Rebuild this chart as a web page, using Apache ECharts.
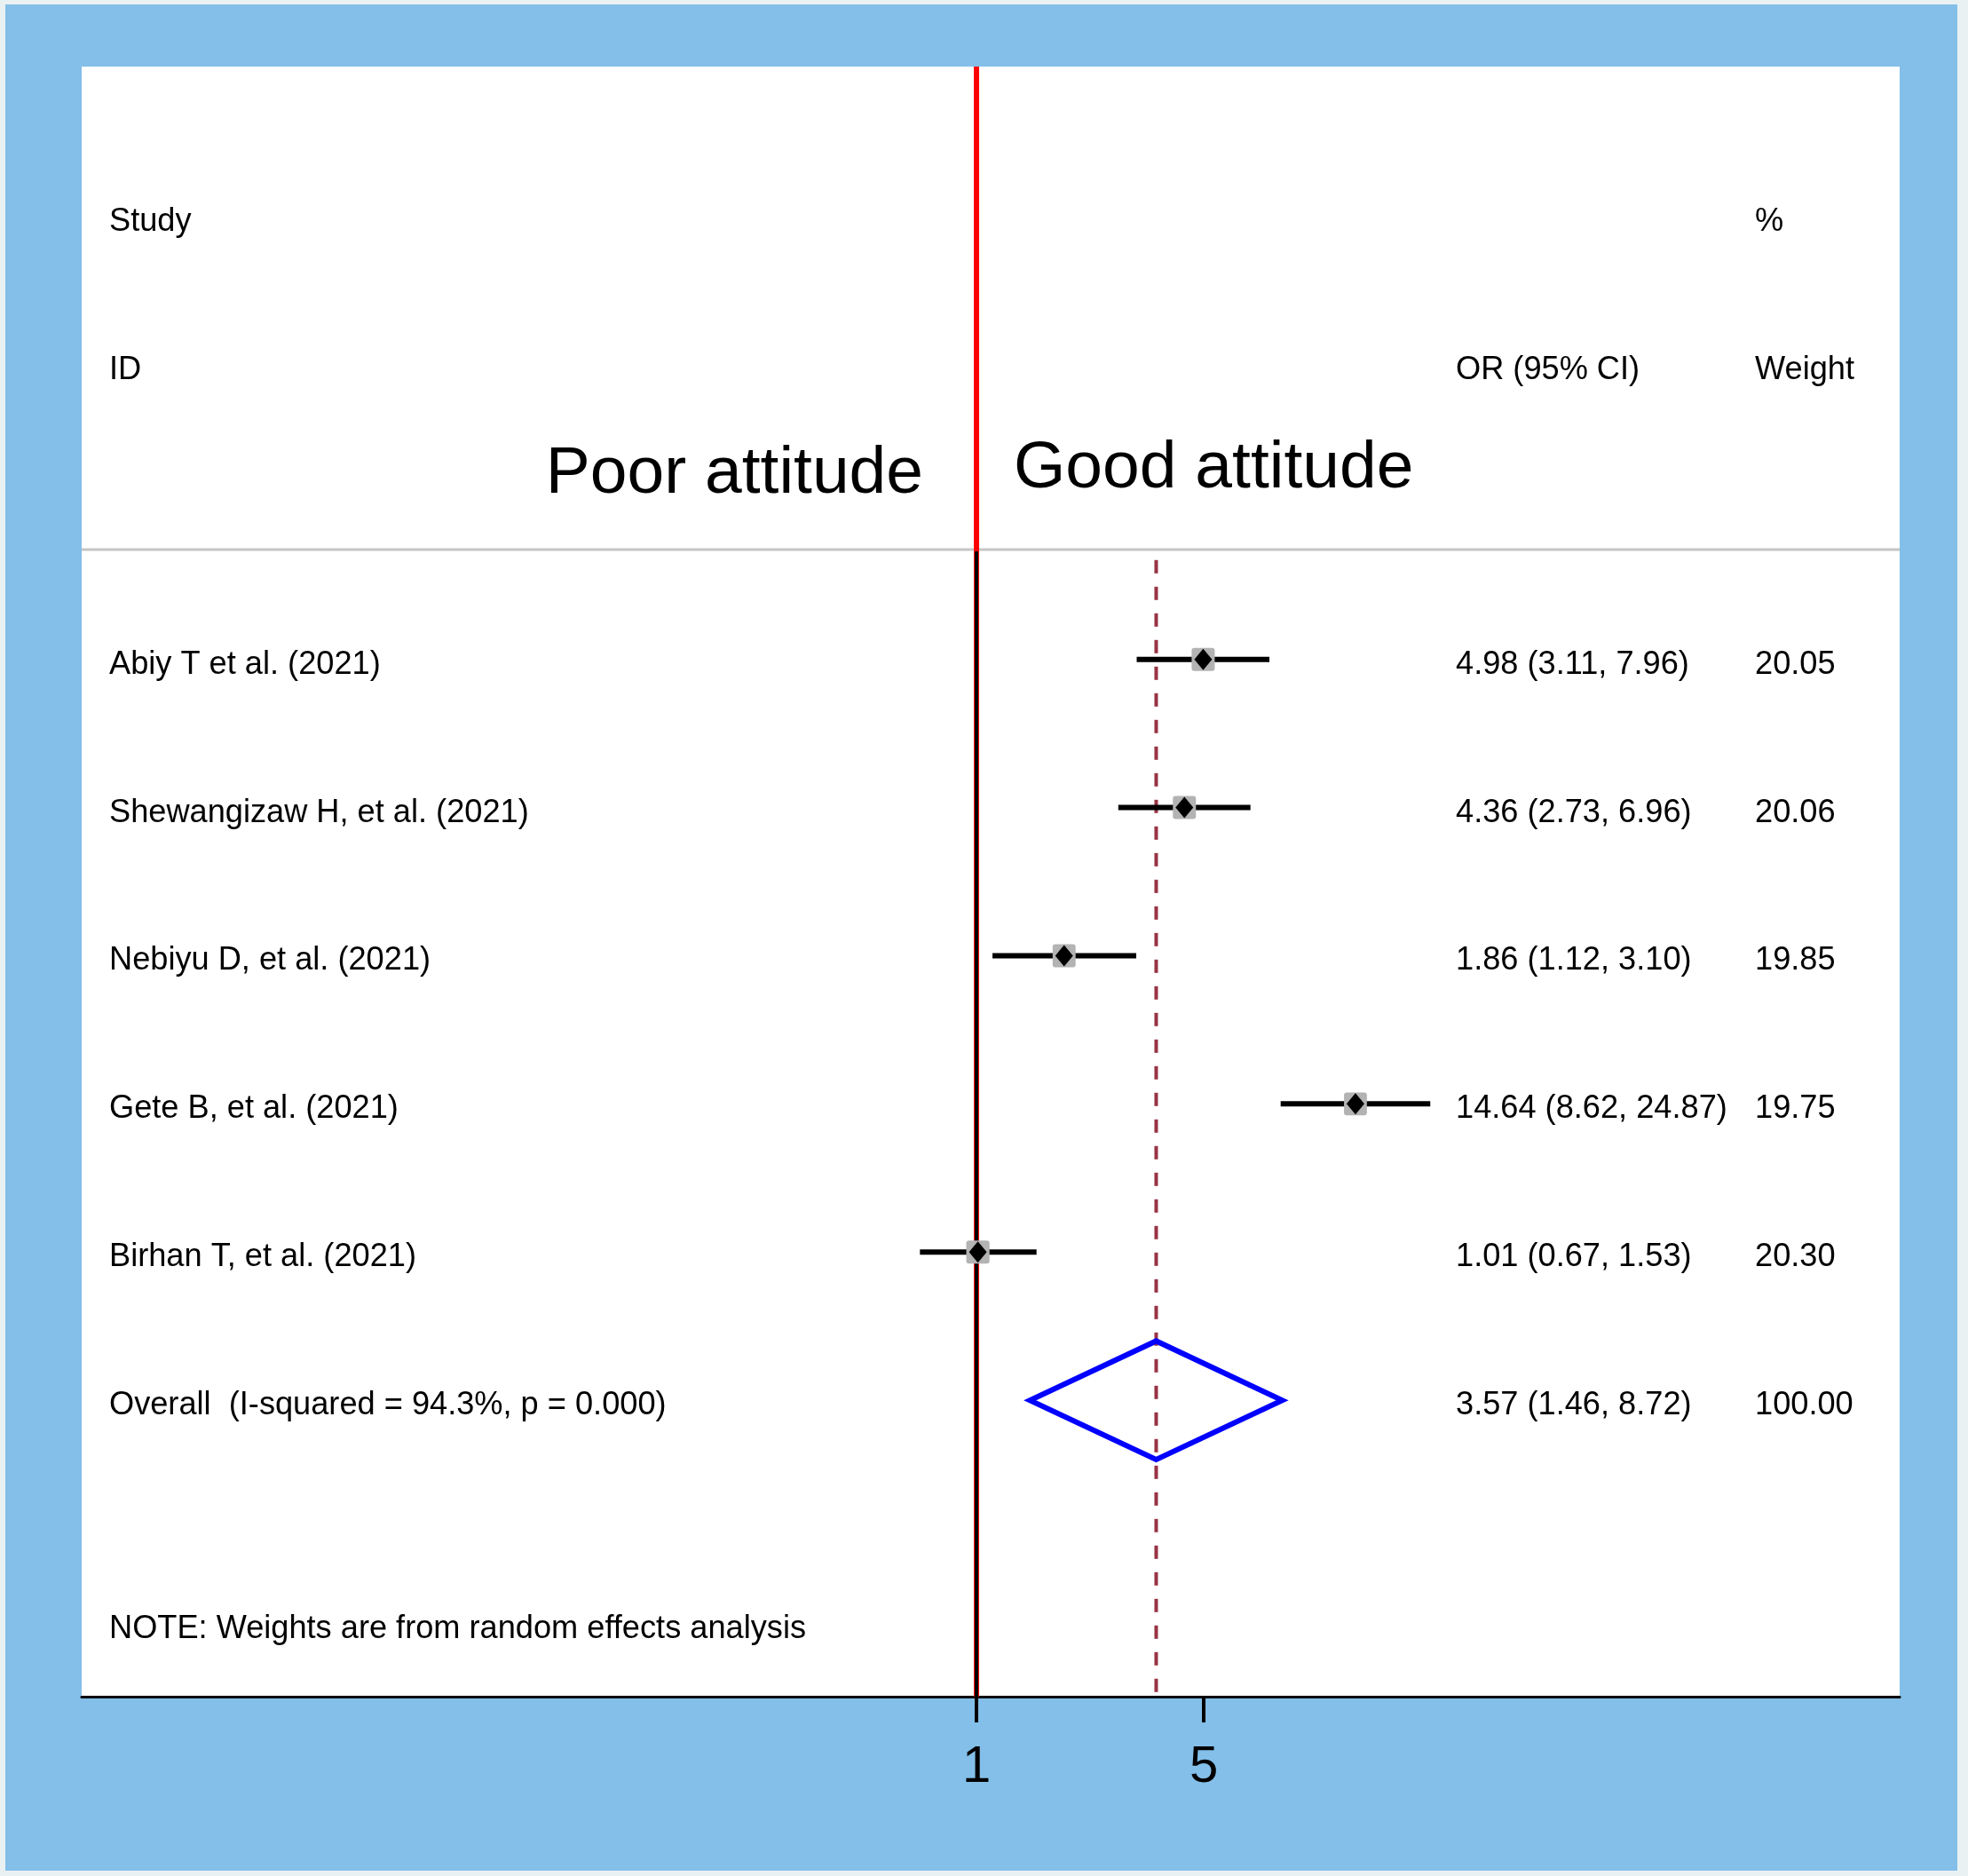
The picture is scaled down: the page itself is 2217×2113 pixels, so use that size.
<!DOCTYPE html>
<html>
<head>
<meta charset="utf-8">
<script src="https://cdn.jsdelivr.net/npm/echarts@6/dist/echarts.min.js"></script>
<style>
  html, body { margin: 0; padding: 0; background: #E9F1F3; }
  #wrap { position: relative; width: 2217px; height: 2113px; background: #E9F1F3; overflow: hidden; }
  #chart { position: absolute; left: 6px; top: 5px; width: 2199px; height: 2102px; background: #83BFE8; }
</style>
</head>
<body>
<div id="wrap"><div id="chart"></div></div>
<script>
// ---- data ----
const studies = ['Abiy T et al. (2021)', 'Shewangizaw H, et al. (2021)', 'Nebiyu D, et al. (2021)', 'Gete B, et al. (2021)', 'Birhan T, et al. (2021)'];
const oddsRatios = [4.98, 4.36, 1.86, 14.64, 1.01];
const lowerCI = [3.11, 2.73, 1.12, 8.62, 0.67];
const upperCI = [7.96, 6.96, 3.10, 24.87, 1.53];
const weights = [20.05, 20.06, 19.85, 19.75, 20.30];
const overallLabel = 'Overall  (I-squared = 94.3%, p = 0.000)';
const overallOR = 3.57;
const overallLower = 1.46;
const overallUpper = 8.72;
const overallWeight = 100.00;
const noteText = 'NOTE: Weights are from random effects analysis';
const headerStudy = ['Study', 'ID'];
const headerOR = ['', 'OR (95% CI)'];
const headerWeight = ['%', 'Weight'];
const leftSideLabel = 'Poor attitude';
const rightSideLabel = 'Good attitude';
const xTicks = [1, 5];
const nullValue = 1;

// ---- layout constants (not data) ----
const FONT = "'Liberation Sans', Arial, sans-serif";
const studyRows = studies.map((_, i) => i + 1);
const overallRow = studies.length + 1;
const noteRow = 7.51;
const headerRows = [-2, -1];
const sideLabelRows = [-0.27, -0.31];
const headerLineRow = 0.26;
const dashStartRow = 0.33;
const colStudyX = 117, colORX = 1634, colWeightX = 1971;
const textDY = 6;
const TS = 36.2;
const fmt = v => v.toFixed(2);

const chart = echarts.init(document.getElementById('chart'), null, { renderer: 'canvas' });

function txt(x, y, text, size, align) {
  return {
    type: 'text', x: x, y: y,
    style: { text: text, fill: '#000', font: size + 'px ' + FONT, align: align || 'left', verticalAlign: 'middle' }
  };
}

const option = {
  animation: false,
  backgroundColor: '#83BFE8',
  grid: { left: 86, top: 70, width: 2048, height: 1836, show: true, backgroundColor: '#ffffff', borderWidth: 0 },
  xAxis: {
    type: 'log', logBase: 10, min: 0.00177, max: 690.6,
    axisLine: { show: true, onZero: false, lineStyle: { color: '#000', width: 3 } },
    axisTick: { show: true, customValues: xTicks, length: 29, lineStyle: { color: '#000', width: 4 } },
    axisLabel: { show: true, customValues: xTicks, margin: 51, fontSize: 58, color: '#000', fontFamily: FONT,
      formatter: v => String(Math.round(v)) },
    splitLine: { show: false }
  },
  yAxis: { type: 'value', min: -3, max: 8, inverse: true, show: false },
  series: [
    {
      name: 'refLines', type: 'custom', z: 1, silent: true,
      data: [[overallOR]],
      renderItem: function (params, api) {
        const cs = params.coordSys;
        const x1 = api.coord([nullValue, 0])[0];
        const yTop = cs.y, yBot = cs.y + cs.height;
        const yGray = api.coord([nullValue, headerLineRow])[1];
        const xo = api.coord([api.value(0), 0])[0];
        const yDash = api.coord([nullValue, dashStartRow])[1];
        return { type: 'group', children: [
          { type: 'line', shape: { x1: cs.x, y1: yGray, x2: cs.x + cs.width, y2: yGray }, style: { stroke: '#C6C6C6', lineWidth: 3 } },
          { type: 'line', shape: { x1: x1, y1: yTop, x2: x1, y2: yBot }, style: { stroke: '#FF0000', lineWidth: 6 } },
          { type: 'line', shape: { x1: x1, y1: yGray + 2, x2: x1, y2: yBot }, style: { stroke: '#000000', lineWidth: 4 } },
          { type: 'line', shape: { x1: xo, y1: yDash, x2: xo, y2: yBot }, style: { stroke: '#983344', lineWidth: 4, lineDash: [15, 15] } }
        ] };
      }
    },
    {
      name: 'ci', type: 'custom', z: 3, silent: true,
      data: studies.map((s, i) => [lowerCI[i], upperCI[i], studyRows[i], oddsRatios[i], weights[i]]),
      renderItem: function (params, api) {
        const a = api.coord([api.value(0), api.value(2)]);
        const b = api.coord([api.value(1), api.value(2)]);
        const c = api.coord([api.value(3), api.value(2)]);
        const sz = 5.806 * Math.sqrt(api.value(4));
        return { type: 'group', children: [
          { type: 'line', shape: { x1: a[0], y1: a[1], x2: b[0], y2: b[1] }, style: { stroke: '#000', lineWidth: 6 } },
          { type: 'rect', shape: { x: c[0] - sz / 2, y: c[1] - sz / 2, width: sz, height: sz, r: 3 }, style: { fill: '#B3B3B3' } }
        ] };
      }
    },
    {
      name: 'point', type: 'scatter', z: 4, silent: true,
      symbol: 'diamond', symbolSize: [20, 24],
      itemStyle: { color: '#000', opacity: 1 },
      data: oddsRatios.map((v, i) => [v, studyRows[i]])
    },
    {
      name: 'overall', type: 'custom', z: 4, silent: true,
      data: [[overallLower, overallOR, overallUpper, overallRow]],
      renderItem: function (params, api) {
        const r = api.value(3);
        const pL = api.coord([api.value(0), r]);
        const pT = api.coord([api.value(1), r - 0.4]);
        const pR = api.coord([api.value(2), r]);
        const pB = api.coord([api.value(1), r + 0.4]);
        return { type: 'polygon', shape: { points: [pL, pT, pR, pB] },
          style: { fill: 'rgba(0,0,0,0)', stroke: '#0000FF', lineWidth: 6, lineJoin: 'miter' } };
      }
    },
    {
      name: 'rowText', type: 'custom', z: 5, silent: true,
      data: studies.map((s, i) => [studyRows[i], i]).concat([[overallRow, -1]]),
      renderItem: function (params, api) {
        const idx = api.value(1);
        const y = api.coord([nullValue, api.value(0)])[1] + textDY;
        let label, orTxt, wTxt;
        if (idx >= 0) {
          label = studies[idx];
          orTxt = fmt(oddsRatios[idx]) + ' (' + fmt(lowerCI[idx]) + ', ' + fmt(upperCI[idx]) + ')';
          wTxt = fmt(weights[idx]);
        } else {
          label = overallLabel;
          orTxt = fmt(overallOR) + ' (' + fmt(overallLower) + ', ' + fmt(overallUpper) + ')';
          wTxt = fmt(overallWeight);
        }
        return { type: 'group', children: [
          txt(colStudyX, y, label, TS), txt(colORX, y, orTxt, TS), txt(colWeightX, y, wTxt, TS)
        ] };
      }
    },
    {
      name: 'headerText', type: 'custom', z: 5, silent: true,
      data: headerRows.map((r, i) => [r, i]),
      renderItem: function (params, api) {
        const i = api.value(1);
        const y = api.coord([nullValue, api.value(0)])[1] + textDY + 2;
        return { type: 'group', children: [
          txt(colStudyX, y, headerStudy[i], TS), txt(colORX, y, headerOR[i], TS), txt(colWeightX, y, headerWeight[i], TS)
        ] };
      }
    },
    {
      name: 'sideText', type: 'custom', z: 5, silent: true,
      data: [[nullValue, sideLabelRows[0], sideLabelRows[1], noteRow]],
      renderItem: function (params, api) {
        const x1 = api.coord([api.value(0), 0])[0];
        const yL = api.coord([api.value(0), api.value(1)])[1] + 4;
        const yR = api.coord([api.value(0), api.value(2)])[1] + 4;
        const yN = api.coord([api.value(0), api.value(3)])[1] + textDY;
        return { type: 'group', children: [
          txt(x1 - 60, yL, leftSideLabel, 75, 'right'),
          txt(x1 + 42, yR, rightSideLabel, 75, 'left'),
          txt(colStudyX, yN, noteText, TS)
        ] };
      }
    }
  ]
};
chart.setOption(option);
</script>
</body>
</html>
